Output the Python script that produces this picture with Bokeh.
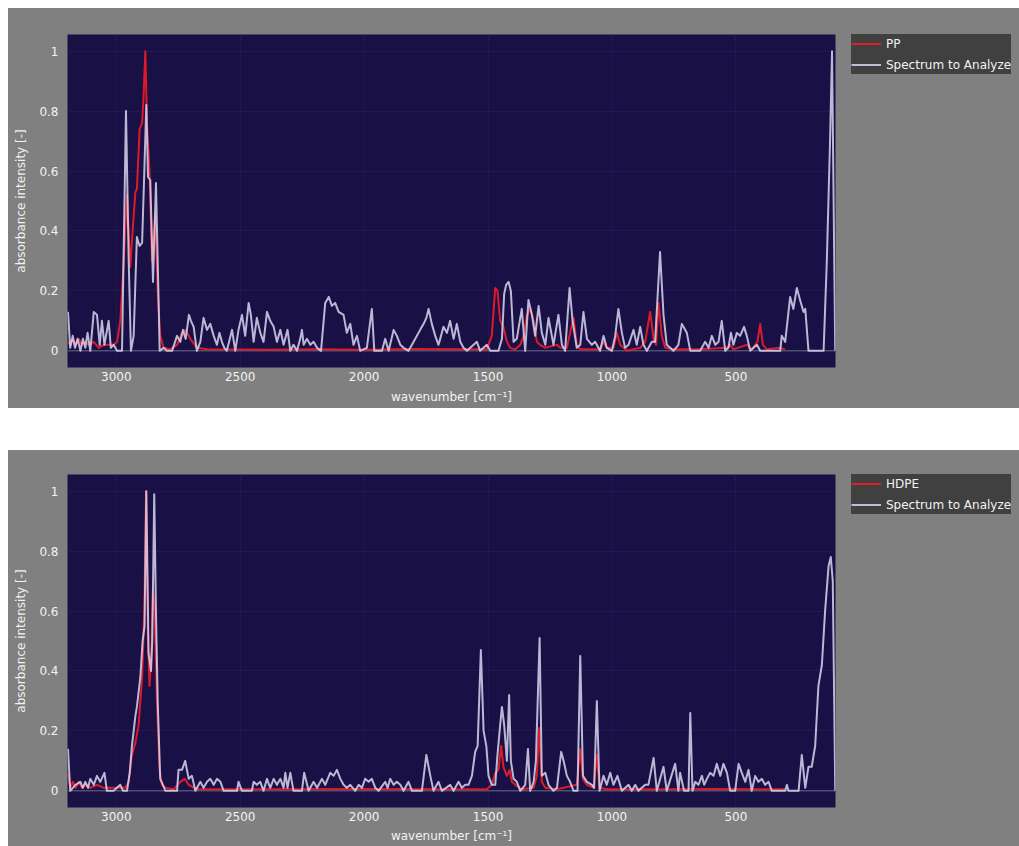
from bokeh.plotting import figure
from bokeh.layouts import column, row
from bokeh.models import (Range1d, FixedTicker, Legend, LegendItem, Span,
                          CustomJSTickFormatter)
from bokeh.embed import file_html
from bokeh.resources import INLINE

# ---------------- data ----------------
x_ticks = [3000, 2500, 2000, 1500, 1000, 500]
y_ticks = [0, 0.2, 0.4, 0.6, 0.8, 1]

# Chart 1: reference PP
pp_wn = [3195, 3186, 3175, 3164, 3152, 3139, 3125, 3112, 3091, 3071, 3051, 3031, 3011, 2997,
         2984, 2970, 2957, 2944, 2930, 2923, 2917, 2906, 2896, 2890, 2883, 2876, 2866, 2856,
         2843, 2833, 2823, 2809, 2782, 2755, 2735, 2722, 2701, 2675, 2634, 2400, 2200, 2000,
         1800, 1600, 1505, 1485, 1471, 1462, 1451, 1438, 1424, 1411, 1390, 1370, 1357, 1343,
         1330, 1316, 1303, 1290, 1269, 1222, 1209, 1182, 1169, 1155, 1142, 1128, 1048, 1034,
         1021, 994, 980, 967, 940, 886, 866, 846, 832, 822, 812, 799, 785, 752, 650, 536, 523,
         510, 456, 436, 413, 402, 391, 375, 321, 301]
pp_abs = [0.03, 0.02, 0.04, 0.02, 0.04, 0.02, 0.03, 0.02, 0.03, 0.01, 0.02, 0.02, 0.02, 0.03,
          0.10, 0.30, 0.52, 0.28, 0.45, 0.53, 0.54, 0.74, 0.76, 0.85, 1.0, 0.75, 0.60, 0.30,
          0.45, 0.20, 0.05, 0.01, 0.005, 0.02, 0.06, 0.07, 0.04, 0.01, 0.005, 0.004, 0.005, 0.004,
          0.006, 0.005, 0.005, 0.05, 0.21, 0.20, 0.10, 0.08, 0.03, 0.01, 0.005, 0.02, 0.05, 0.12,
          0.14, 0.10, 0.03, 0.02, 0.01, 0.02, 0.01, 0.01, 0.06, 0.11, 0.02, 0.005, 0.005, 0.03,
          0.01, 0.01, 0.06, 0.02, 0.0, 0.01, 0.03, 0.13, 0.04, 0.02, 0.16, 0.05, 0.01, 0.005, 0.005, 0.01, 0.02,
          0.005, 0.02, 0.005, 0.03, 0.09, 0.02, 0.005, 0.01, 0.005]

# Chart 1: spectrum to analyze
s1_wn = [3195, 3186, 3176, 3167, 3156, 3145, 3135, 3125, 3116, 3105, 3091, 3078, 3067, 3058,
         3048, 3031, 3022, 3011, 2997, 2977, 2961, 2950, 2941, 2930, 2917, 2906, 2896, 2887,
         2879, 2872, 2863, 2852, 2840, 2825, 2809, 2796, 2775, 2755, 2742, 2731, 2720, 2707,
         2699, 2688, 2675, 2661, 2648, 2634, 2621, 2607, 2594, 2584, 2574, 2564, 2554, 2533,
         2520, 2507, 2493, 2480, 2466, 2457, 2446, 2433, 2419, 2406, 2392, 2379, 2365, 2352,
         2338, 2325, 2309, 2298, 2285, 2271, 2258, 2251, 2244, 2231, 2217, 2204, 2190, 2174,
         2157, 2143, 2130, 2117, 2103, 2083, 2070, 2056, 2043, 2029, 2016, 1989, 1969, 1959,
         1928, 1915, 1901, 1881, 1868, 1854, 1841, 1821, 1807, 1787, 1774, 1760, 1749, 1740,
         1727, 1713, 1700, 1693, 1680, 1666, 1653, 1639, 1626, 1612, 1599, 1585, 1545, 1532,
         1505, 1491, 1458, 1444, 1435, 1427, 1417, 1408, 1397, 1384, 1364, 1350, 1337, 1323,
         1310, 1296, 1283, 1269, 1256, 1236, 1216, 1202, 1189, 1171, 1159, 1142, 1128, 1115,
         1101, 1081, 1068, 1048, 1034, 1021, 1000, 987, 974, 960, 947, 933, 913, 900, 886, 873,
         859, 839, 826, 806, 792, 779, 765, 752, 732, 718, 698, 684, 644, 624, 610, 597, 583,
         570, 557, 543, 530, 520, 510, 496, 483, 467, 456, 442, 415, 402, 321, 315, 301, 281,
         268, 254, 241, 227, 220, 207, 146, 133, 120, 112, 103, 99]
s1_abs = [0.13, 0.01, 0.05, 0.01, 0.04, 0.0, 0.04, 0.01, 0.06, 0.0, 0.13, 0.12, 0.02, 0.10,
          0.02, 0.10, 0.01, 0.02, 0.0, 0.0, 0.80, 0.30, 0.0, 0.05, 0.38, 0.35, 0.36, 0.60,
          0.82, 0.58, 0.57, 0.23, 0.56, 0.0, 0.01, 0.0, 0.0, 0.05, 0.03, 0.07, 0.04, 0.12,
          0.10, 0.08, 0.0, 0.03, 0.11, 0.07, 0.09, 0.05, 0.02, 0.06, 0.03, 0.01, 0.0, 0.07,
          0.0, 0.07, 0.12, 0.05, 0.16, 0.12, 0.03, 0.11, 0.06, 0.03, 0.13, 0.10, 0.08, 0.03,
          0.07, 0.02, 0.07, 0.0, 0.02, 0.0, 0.04, 0.07, 0.02, 0.04, 0.02, 0.03, 0.01, 0.0,
          0.16, 0.18, 0.15, 0.16, 0.13, 0.12, 0.06, 0.09, 0.02, 0.05, 0.0, 0.01, 0.14, 0.0,
          0.0, 0.04, 0.0, 0.07, 0.05, 0.02, 0.01, 0.0, 0.02, 0.05, 0.07, 0.09, 0.11, 0.14,
          0.09, 0.05, 0.02, 0.04, 0.08, 0.06, 0.10, 0.04, 0.09, 0.03, 0.01, 0.0, 0.03, 0.0,
          0.02, 0.0, 0.0, 0.04, 0.19, 0.22, 0.23, 0.20, 0.03, 0.04, 0.14, 0.0, 0.17, 0.12,
          0.05, 0.15, 0.06, 0.02, 0.11, 0.02, 0.12, 0.02, 0.0, 0.21, 0.10, 0.01, 0.02, 0.13,
          0.04, 0.02, 0.03, 0.0, 0.05, 0.01, 0.0, 0.05, 0.14, 0.06, 0.01, 0.02, 0.07, 0.02, 0.08, 0.02,
          0.0, 0.03, 0.03, 0.33, 0.12, 0.02, 0.01, 0.0, 0.02, 0.09, 0.06, 0.0, 0.0, 0.03, 0.01, 0.05, 0.02,
          0.03, 0.10, 0.0, 0.01, 0.06, 0.02, 0.06, 0.05, 0.08, 0.05, 0.0, 0.02, 0.0, 0.0, 0.05, 0.03, 0.18,
          0.14, 0.21, 0.17, 0.13, 0.14, 0.0, 0.0, 0.30, 0.70, 1.0, 0.30, 0.0]

# Chart 2: reference HDPE
hdpe_wn = [3195, 3186, 3175, 3164, 3152, 3139, 3125, 3105, 3078, 3051, 3024, 2997, 2964, 2950,
           2937, 2923, 2910, 2896, 2887, 2880, 2872, 2866, 2859, 2852, 2845, 2836, 2825, 2816,
           2802, 2769, 2742, 2724, 2708, 2675, 2400, 2000, 1700, 1505, 1485, 1471, 1458, 1447,
           1438, 1424, 1413, 1404, 1390, 1364, 1316, 1303, 1294, 1283, 1269, 1222, 1142, 1128,
           1117, 1101, 1074, 1061, 1050, 1021, 800, 600, 400, 300]
hdpe_abs = [0.06, 0.01, 0.03, 0.01, 0.03, 0.01, 0.02, 0.01, 0.02, 0.01, 0.01, 0.01, 0.01, 0.03,
            0.12, 0.16, 0.22, 0.38, 0.60, 1.0, 0.50, 0.35, 0.45, 0.67, 0.60, 0.30, 0.07, 0.02,
            0.01, 0.005, 0.03, 0.04, 0.02, 0.005, 0.005, 0.006, 0.005, 0.005, 0.02, 0.06, 0.07, 0.15,
            0.08, 0.05, 0.07, 0.03, 0.02, 0.005, 0.01, 0.05, 0.21, 0.03, 0.01, 0.005, 0.02, 0.14,
            0.04, 0.02, 0.01, 0.12, 0.01, 0.005, 0.005, 0.006, 0.005, 0.005]

# Chart 2: spectrum to analyze
s2_wn = [3195, 3186, 3165, 3145, 3135, 3125, 3114, 3105, 3091, 3078, 3065, 3048, 3038, 3011,
         2984, 2973, 2957, 2946, 2937, 2923, 2917, 2903, 2894, 2886, 2879, 2870, 2860, 2855,
         2847, 2840, 2833, 2823, 2812, 2802, 2755, 2749, 2735, 2722, 2708, 2695, 2681, 2661,
         2648, 2634, 2621, 2607, 2594, 2580, 2567, 2513, 2507, 2493, 2453, 2446, 2433, 2419,
         2406, 2392, 2379, 2365, 2352, 2338, 2325, 2318, 2309, 2298, 2285, 2251, 2242, 2224,
         2204, 2190, 2170, 2157, 2137, 2123, 2110, 2096, 2083, 2070, 2056, 2036, 2022, 2009,
         1996, 1982, 1969, 1955, 1942, 1915, 1905, 1895, 1881, 1868, 1854, 1841, 1821, 1807,
         1767, 1749, 1733, 1720, 1700, 1686, 1653, 1639, 1619, 1606, 1592, 1579, 1565, 1552,
         1542, 1529, 1518, 1507, 1498, 1485, 1471, 1462, 1451, 1444, 1435, 1424, 1415, 1408,
         1397, 1384, 1370, 1350, 1339, 1330, 1316, 1307, 1292, 1283, 1269, 1256, 1236, 1222,
         1205, 1195, 1182, 1169, 1155, 1139, 1128, 1117, 1101, 1081, 1072, 1061, 1050, 1034,
         1021, 1007, 994, 978, 960, 933, 920, 906, 893, 866, 853, 832, 819, 792, 779, 745, 732,
         725, 709, 691, 684, 675, 664, 651, 637, 628, 617, 604, 590, 577, 563, 550, 536, 523,
         503, 489, 476, 462, 449, 436, 422, 409, 395, 382, 368, 355, 301, 294, 288, 247, 234,
         220, 207, 194, 180, 167, 153, 140, 126, 117, 109, 99]
s2_abs = [0.14, 0.0, 0.02, 0.03, 0.01, 0.03, 0.01, 0.04, 0.02, 0.05, 0.03, 0.06, 0.0, 0.0,
          0.02, 0.0, 0.0, 0.06, 0.15, 0.25, 0.28, 0.38, 0.50, 0.55, 1.0, 0.46, 0.40, 0.50,
          0.99, 0.60, 0.30, 0.04, 0.02, 0.0, 0.0, 0.07, 0.07, 0.10, 0.04, 0.05, 0.0, 0.03,
          0.01, 0.03, 0.04, 0.02, 0.04, 0.03, 0.0, 0.0, 0.03, 0.0, 0.0, 0.03, 0.02, 0.03,
          0.0, 0.04, 0.01, 0.04, 0.02, 0.04, 0.01, 0.06, 0.01, 0.06, 0.0, 0.0, 0.06, 0.0,
          0.03, 0.01, 0.04, 0.02, 0.06, 0.05, 0.07, 0.04, 0.02, 0.01, 0.02, 0.0, 0.02, 0.01,
          0.04, 0.03, 0.04, 0.01, 0.0, 0.03, 0.01, 0.04, 0.02, 0.03, 0.02, 0.0, 0.03, 0.0,
          0.0, 0.12, 0.05, 0.0, 0.03, 0.0, 0.02, 0.0, 0.03, 0.01, 0.02, 0.02, 0.05, 0.13,
          0.15, 0.47, 0.20, 0.15, 0.05, 0.02, 0.02, 0.12, 0.22, 0.28, 0.22, 0.10, 0.32, 0.10,
          0.04, 0.03, 0.0, 0.02, 0.14, 0.0, 0.03, 0.10, 0.51, 0.05, 0.06, 0.02, 0.0, 0.01,
          0.13, 0.10, 0.05, 0.03, 0.0, 0.0, 0.45, 0.05, 0.03, 0.02, 0.01, 0.30, 0.0, 0.05,
          0.02, 0.06, 0.02, 0.05, 0.0, 0.02, 0.0, 0.02, 0.0, 0.02, 0.02, 0.11, 0.0, 0.08, 0.0, 0.09, 0.0,
          0.06, 0.0, 0.0, 0.26, 0.0, 0.03, 0.02, 0.05, 0.02, 0.04, 0.06, 0.05, 0.09, 0.05, 0.09, 0.06, 0.0,
          0.0, 0.09, 0.06, 0.03, 0.07, 0.0, 0.05, 0.03, 0.04, 0.02, 0.03, 0.0, 0.0, 0.02, 0.0, 0.0, 0.12,
          0.01, 0.08, 0.08, 0.15, 0.35, 0.42, 0.60, 0.75, 0.78, 0.70, 0.0]

# ---------------- styling ----------------
PLOT_BG = "#191046"
PAPER_BG = "#808080"
REF_COLOR = "#ec1c28"
SPEC_COLOR = "#d8d5ee"
FONT = "DejaVu Sans"


def make_chart(ref_wn, ref_abs, spec_wn, spec_abs, height, top, bottom, title_standoff):
    p = figure(width=843, height=height, output_backend="svg", toolbar_location=None,
               x_range=Range1d(3197, 98), y_range=Range1d(-0.0556, 1.0556),
               background_fill_color=PLOT_BG, border_fill_color=PAPER_BG,
               outline_line_color=None,
               min_border_left=59, min_border_right=16,
               min_border_top=top, min_border_bottom=bottom)

    p.xaxis.ticker = FixedTicker(ticks=x_ticks)
    p.yaxis.ticker = FixedTicker(ticks=y_ticks)
    p.yaxis.formatter = CustomJSTickFormatter(
        code="return (Math.round(tick*10)/10).toString();")
    for ax in (p.xaxis[0], p.yaxis[0]):
        ax.axis_line_color = None
        ax.major_tick_line_color = None
        ax.minor_tick_line_color = None
        ax.major_tick_out = 0
        ax.major_tick_in = 0
        ax.minor_tick_out = 0
        ax.minor_tick_in = 0
        ax.major_label_text_font = FONT
        ax.major_label_text_font_size = "12px"
        ax.major_label_text_color = "#f2f2f2"
        ax.axis_label_text_font = FONT
        ax.axis_label_text_font_size = "12px"
        ax.axis_label_text_font_style = "normal"
        ax.axis_label_text_color = "#f2f2f2"
    p.xaxis.axis_label = "wavenumber [cm\u207b\u00b9]"
    p.yaxis.axis_label = "absorbance intensity [-]"
    p.xaxis.major_label_standoff = 4
    p.xaxis.axis_label_standoff = title_standoff
    p.yaxis.major_label_standoff = 9
    p.yaxis.axis_label_standoff = 8

    p.xgrid.grid_line_color = "#201852"
    p.ygrid.grid_line_color = "#201852"

    p.add_layout(Span(location=0, dimension="width", line_color="#6c6c84",
                      line_width=1, level="underlay"))

    p.line(ref_wn, ref_abs, line_color=REF_COLOR, line_width=2,
           line_alpha=0.92, line_join="round")
    p.line(spec_wn, spec_abs, line_color=SPEC_COLOR, line_width=2,
           line_alpha=0.85, line_join="round")
    return p


def make_legend(ref_label, ref_wn, ref_abs, spec_wn, spec_abs, height):
    # a side panel that only carries the legend; its ranges keep the
    # proxy series outside of its (transparent) frame
    lf = figure(width=168, height=height, output_backend="svg", toolbar_location=None,
                x_range=Range1d(-2, -1), y_range=Range1d(-2, -1),
                background_fill_alpha=0, border_fill_color=PAPER_BG,
                outline_line_color=None,
                min_border_left=0, min_border_right=0,
                min_border_top=0, min_border_bottom=0)
    lf.axis.visible = False
    lf.grid.visible = False
    k_ref = lf.line(ref_wn, ref_abs, line_color=REF_COLOR, line_width=2, line_alpha=0.92)
    k_spec = lf.line(spec_wn, spec_abs, line_color=SPEC_COLOR, line_width=2, line_alpha=0.85)
    legend = Legend(items=[LegendItem(label=ref_label, renderers=[k_ref]),
                           LegendItem(label="Spectrum to Analyze", renderers=[k_spec])],
                    location="top_left")
    legend.background_fill_color = "#404040"
    legend.background_fill_alpha = 1.0
    legend.border_line_color = None
    legend.label_text_color = "#f2f2f2"
    legend.label_text_font = FONT
    legend.label_text_font_size = "12px"
    legend.glyph_width = 30
    legend.glyph_height = 19
    legend.label_height = 19
    legend.label_standoff = 5
    legend.padding = 7
    legend.spacing = 2
    legend.margin = 0
    lf.add_layout(legend)
    return lf


p1 = make_chart(pp_wn, pp_abs, s1_wn, s1_abs, height=400, top=26, bottom=41,
                title_standoff=6)
l1 = make_legend("PP", pp_wn, pp_abs, s1_wn, s1_abs, height=400)
p2 = make_chart(hdpe_wn, hdpe_abs, s2_wn, s2_abs, height=396, top=24, bottom=39,
                title_standoff=5)
l2 = make_legend("HDPE", hdpe_wn, hdpe_abs, s2_wn, s2_abs, height=396)

row_style = {"background-color": PAPER_BG}
layout = column(row(p1, l1, styles=row_style), row(p2, l2, styles=row_style),
                spacing=42, margin=(8, 0, 0, 8))
open("out.html", "w").write(file_html(layout, INLINE))
